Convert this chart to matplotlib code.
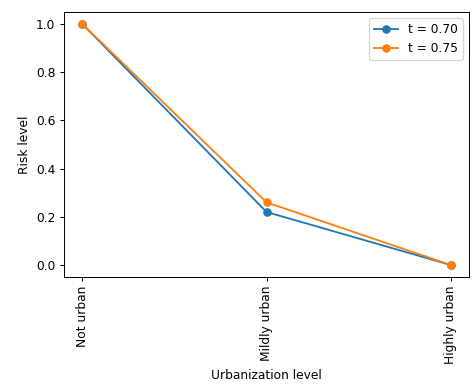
import matplotlib
matplotlib.use('Agg')
import matplotlib.pyplot as plt

levels = ["Not urban", "Mildly urban", "Highly urban"]
risk_070 = [1.0, 0.22, 0.0]
risk_075 = [1.0, 0.26, 0.0]

dpi = 88
fig = plt.figure(figsize=(476 / dpi, 387 / dpi), dpi=dpi)
ax = fig.add_axes([64 / 476, 1 - 277 / 387, 405 / 476, 265 / 387])
ax.plot(levels, risk_070, marker="o", label="t = 0.70")
ax.plot(levels, risk_075, marker="o", label="t = 0.75")
ax.set_xlabel("Urbanization level")
ax.set_ylabel("Risk level")
ax.tick_params(axis="x", labelrotation=90)
ax.legend(loc="upper right")
fig.savefig("out.png", dpi=dpi)
